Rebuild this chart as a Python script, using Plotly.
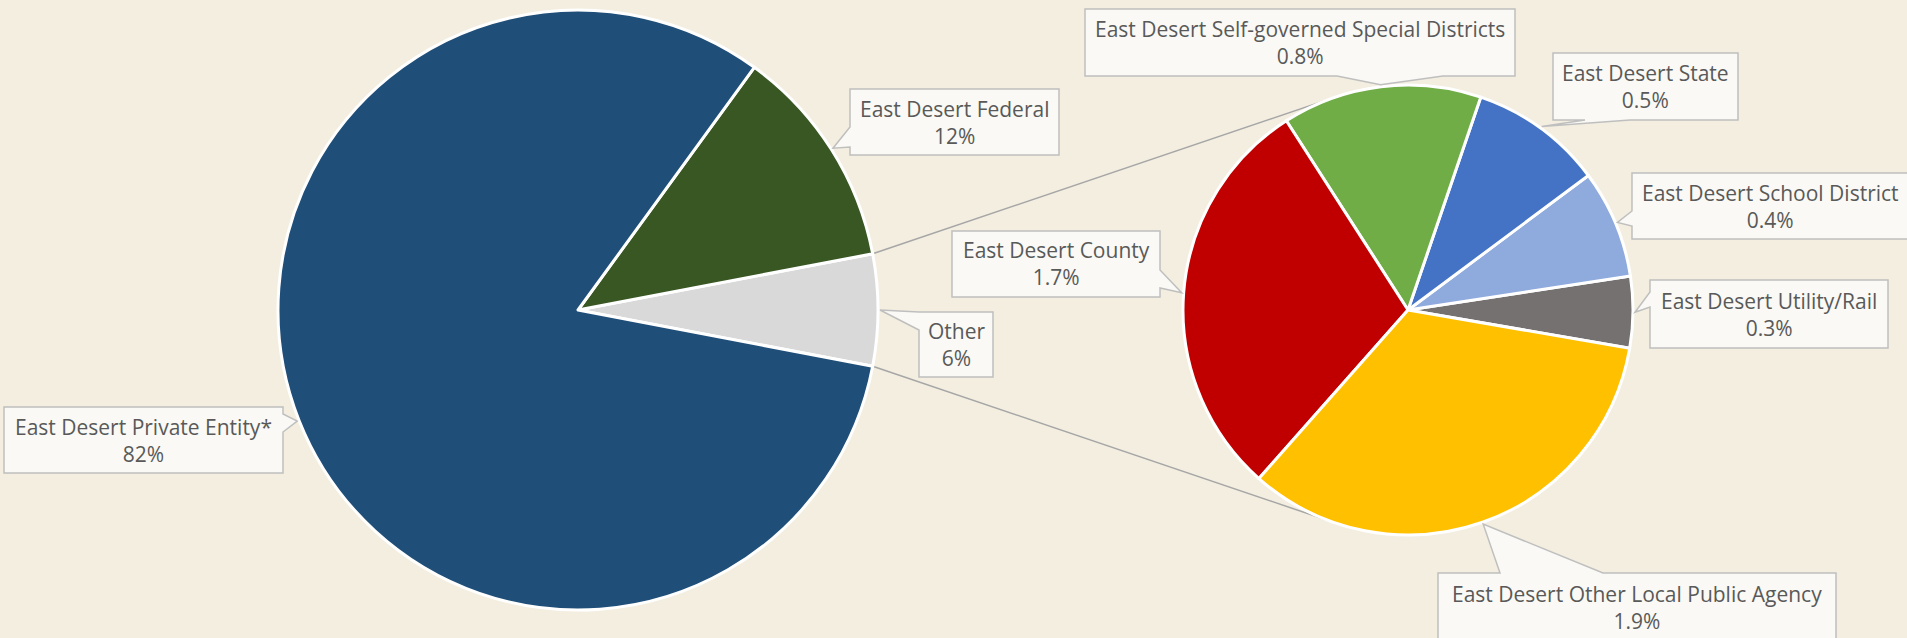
import math
import plotly.graph_objects as go

W, H = 1907, 638

# ---------------- data ----------------
main_labels = ["Other", "East Desert Federal", "East Desert Private Entity*"]
main_values = [6, 12, 82]
main_colors = ["#D9D9D9", "#385723", "#1F4E79"]

sub_labels = [
    "East Desert Utility/Rail",
    "East Desert School District",
    "East Desert State",
    "East Desert Self-governed Special Districts",
    "East Desert County",
    "East Desert Other Local Public Agency",
]
sub_values = [0.29, 0.44, 0.54, 0.81, 1.66, 1.91]
sub_colors = ["#767171", "#8FAADC", "#4472C4", "#70AD47", "#C00000", "#FFC000"]

# ---------------- geometry / style ----------------
BG = "#F3EEE0"
BOX_FILL = "#FAF9F5"
BOX_LINE = "#BFBFBF"
TXT = "#595959"
FONT = "Open Sans"
FS = 21

L_C, L_R = (578.0, 310.0), 300.0
R_C, R_R = (1408.0, 310.0), 225.0
SUB_START = -9.8  # math angle (deg) where the secondary pie begins


def domain(c, r):
    return dict(x=[(c[0] - r) / W, (c[0] + r) / W],
                y=[(H - c[1] - r) / H, (H - c[1] + r) / H])


def mid_angles(values, start):
    tot = sum(values)
    out, a = [], start
    for v in values:
        span = v / tot * 360.0
        out.append(a + span / 2)
        a += span
    return out


def ccw_rotation(values, start):
    # plotly places the first counterclockwise slice ending at `rotation`
    first_span = values[0] / sum(values) * 360.0
    return 90 - (start + first_span)


def px_to_paper(x, y):
    return x / W, 1 - y / H


main_start = -main_values[0] / sum(main_values) * 180.0

fig = go.Figure()
fig.add_trace(go.Pie(
    labels=main_labels, values=main_values, sort=False,
    direction="counterclockwise", rotation=ccw_rotation(main_values, main_start),
    marker=dict(colors=main_colors, line=dict(color="white", width=3)),
    textinfo="none", hoverinfo="label+percent", domain=domain(L_C, L_R),
    showlegend=False,
))
fig.add_trace(go.Pie(
    labels=sub_labels, values=sub_values, sort=False,
    direction="counterclockwise", rotation=ccw_rotation(sub_values, SUB_START),
    marker=dict(colors=sub_colors, line=dict(color="white", width=3)),
    textinfo="none", hoverinfo="label+value", domain=domain(R_C, R_R),
    showlegend=False,
))

shapes, annotations = [], []

# ---- connector lines (tangent from Other slice edges to secondary pie) ----
h = math.radians(main_values[0] / sum(main_values) * 180.0)
for sgn in (1, -1):
    px = L_C[0] + L_R * math.cos(h)
    py = L_C[1] - sgn * L_R * math.sin(h)
    vx, vy = px - R_C[0], py - R_C[1]
    d = math.hypot(vx, vy)
    phi = math.atan2(vy, vx)
    al = math.acos(R_R / d)
    cands = [(R_C[0] + R_R * math.cos(phi + s * al), R_C[1] + R_R * math.sin(phi + s * al)) for s in (1, -1)]
    tx, ty = min(cands, key=lambda p: p[1]) if sgn == 1 else max(cands, key=lambda p: p[1])
    x0, y0 = px_to_paper(px, py)
    x1, y1 = px_to_paper(tx, ty)
    shapes.append(dict(type="line", xref="paper", yref="paper", x0=x0, y0=y0, x1=x1, y1=y1,
                       line=dict(color="#A6A6A6", width=1.5), layer="below"))

# ---- callout boxes: box rect (px), side of pointer, base interval ----
main_boxes = [
    ((919, 312, 993, 377), "left", (312, 330)),
    ((850, 89, 1059, 155), "left", (127, 147)),
    ((4, 407, 283, 473), "right", (414, 432)),
]
sub_boxes = [
    ((1650, 280, 1888, 348), "left", (292, 307)),
    ((1632, 173, 1908, 239), "left", (211, 226)),
    ((1553, 53, 1738, 120), "bottom", (1585, 1630)),
    ((1085, 9, 1515, 76), "bottom", (1337, 1443)),
    ((952, 231, 1160, 297), "right", (270, 288)),
    ((1438, 573, 1836, 641), "top", (1500, 1603)),
]


def callout(box, side, base, tip):
    x0, y0, x1, y1 = box
    a, b = base
    pts = [(x0, y0)]
    if side == "top":
        pts += [(a, y0), tip, (b, y0)]
    pts.append((x1, y0))
    if side == "right":
        pts += [(x1, a), tip, (x1, b)]
    pts.append((x1, y1))
    if side == "bottom":
        pts += [(b, y1), tip, (a, y1)]
    pts.append((x0, y1))
    if side == "left":
        pts += [(x0, b), tip, (x0, a)]
    coords = [px_to_paper(*p) for p in pts]
    return "M " + " L ".join(f"{x:.5f},{y:.5f}" for x, y in coords) + " Z"


def add_labels(labels, values, boxes, center, r, start, fmt):
    for lab, val, ang, (box, side, base) in zip(labels, values, mid_angles(values, start), boxes):
        t = math.radians(ang)
        tip = (center[0] + (r + 2) * math.cos(t), center[1] - (r + 2) * math.sin(t))
        shapes.append(dict(type="path", xref="paper", yref="paper", path=callout(box, side, base, tip),
                           fillcolor=BOX_FILL, line=dict(color=BOX_LINE, width=1.5), layer="above"))
        cx, cy = px_to_paper((box[0] + box[2]) / 2, (box[1] + box[3]) / 2)
        annotations.append(dict(x=cx, y=cy, xref="paper", yref="paper", xanchor="center", yanchor="middle",
                                showarrow=False, align="center",
                                text=f"{lab}<br>{fmt.format(val)}%",
                                font=dict(family=FONT, size=FS, color=TXT)))


add_labels(main_labels, main_values, main_boxes, L_C, L_R, main_start, "{:.0f}")
add_labels(sub_labels, sub_values, sub_boxes, R_C, R_R, SUB_START, "{:.1f}")

fig.update_layout(
    width=W, height=H, margin=dict(l=0, r=0, t=0, b=0, pad=0),
    paper_bgcolor=BG, plot_bgcolor=BG,
    shapes=shapes, annotations=annotations, showlegend=False,
    font=dict(family=FONT, color=TXT),
)

fig.write_html("out.html", config={"displayModeBar": False},
               post_script="document.body.style.margin='0';document.body.style.overflow='hidden';")
